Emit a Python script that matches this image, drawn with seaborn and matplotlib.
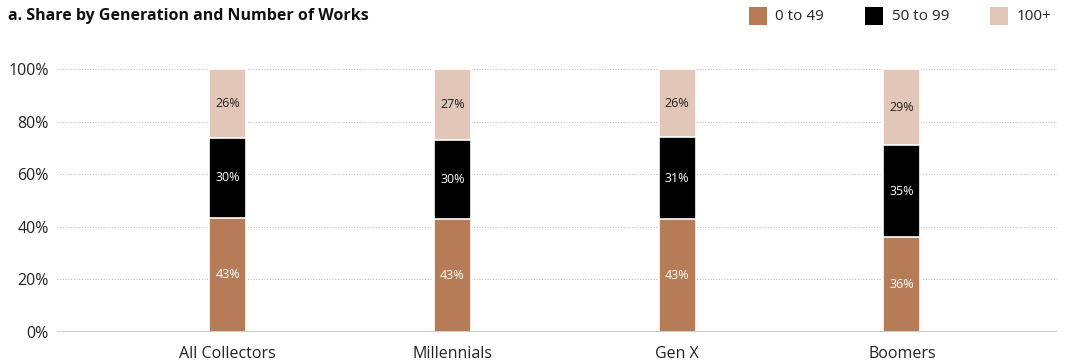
import numpy as np
import pandas as pd
import matplotlib
matplotlib.use("Agg")
import matplotlib.pyplot as plt
import seaborn as sns

categories = ["All Collectors", "Millennials", "Gen X", "Boomers"]
series_names = ["0 to 49", "50 to 99", "100+"]
vals_0_49 = [43, 43, 43, 36]
vals_50_99 = [30, 30, 31, 35]
vals_100p = [26, 27, 26, 29]
yticks = [0, 20, 40, 60, 80, 100]
ytick_labels = ["0%", "20%", "40%", "60%", "80%", "100%"]
title = "a. Share by Generation and Number of Works"

colors = ["#B57C57", "#000000", "#E2C7B8"]
text_colors = ["white", "white", "#222222"]

sns.set_theme(style="white")
plt.rcParams["font.family"] = ["Open Sans", "DejaVu Sans"]

raw = np.array([vals_0_49, vals_50_99, vals_100p], dtype=float)
shares = raw / raw.sum(axis=0) * 100
cum = np.cumsum(shares, axis=0)

fig = plt.figure(figsize=(10.67, 3.63), dpi=100)
ax = fig.add_axes([0.0534, 0.0854, 0.9372, 0.7245])

# draw back to front: cumulative totals
for i in reversed(range(3)):
    df = pd.DataFrame({"cat": categories, "val": cum[i]})
    sns.barplot(data=df, x="cat", y="val", color=colors[i], width=0.165,
                edgecolor="white", linewidth=1.2, saturation=1, ax=ax, zorder=3)

for j in range(len(categories)):
    for i in range(3):
        bottom = cum[i][j] - shares[i][j]
        mid = bottom + shares[i][j] / 2
        ax.text(j, mid, f"{int(raw[i][j])}%", ha="center", va="center",
                fontsize=9, color=text_colors[i], zorder=5)

ax.set_xlim(-0.76, 3.69)
ax.set_ylim(0, 100)
ax.set_yticks(yticks)
ax.set_yticklabels(ytick_labels, fontsize=11.5, color="#222222")
ax.tick_params(axis="x", labelsize=11.5, colors="#222222", length=0, pad=10)
ax.tick_params(axis="y", length=0, pad=6)
ax.set_xlabel("")
ax.set_ylabel("")
for y in yticks[1:]:
    ax.axhline(y, color="#B5B5B5", linestyle=(0, (1, 1.8)), linewidth=0.7, zorder=1)
ax.axhline(0, color="#CCCCCC", linewidth=1.5, zorder=4)
for s in ax.spines.values():
    s.set_visible(False)
ax.grid(False)

fig.text(0.0075, 0.955, title, fontsize=11.5, fontweight="bold", ha="left", va="center", color="#111111")

# legend
legend_items = [(0.702, 0.7265), (0.811, 0.836), (0.928, 0.953)]
for (sx, tx), name, c in zip(legend_items, series_names, colors):
    fig.patches.append(matplotlib.patches.Rectangle((sx, 0.93), 0.0169, 0.05, transform=fig.transFigure,
                                                    facecolor=c, edgecolor="none"))
    fig.text(tx, 0.955, name, fontsize=11, ha="left", va="center", color="#222222")

fig.savefig("out.png", dpi=100)
